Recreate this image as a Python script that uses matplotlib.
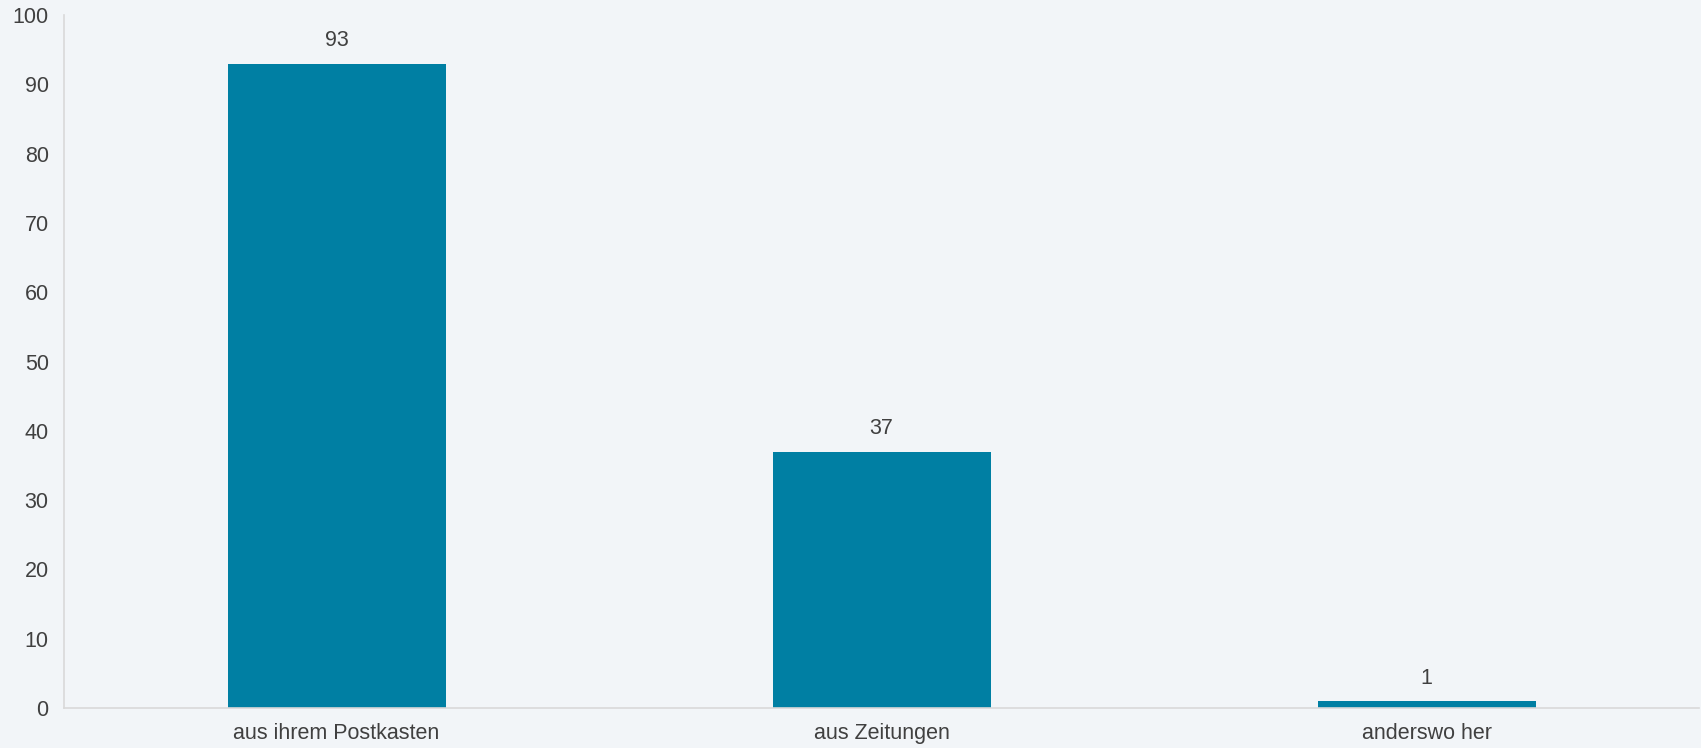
import matplotlib.pyplot as plt

categories = ['aus ihrem Postkasten', 'aus Zeitungen', 'anderswo her']
counts = [93, 37, 1]

bg = '#f2f5f8'
bar_color = '#007fa3'
text_color = '#404040'

plt.rcParams['font.family'] = ['Liberation Sans', 'DejaVu Sans']

fig = plt.figure(figsize=(17.01, 7.48), dpi=100, facecolor=bg)
ax = fig.add_axes([64 / 1701, 40 / 748, 1635 / 1701, 693 / 748])
ax.set_facecolor(bg)

x = range(len(categories))
bars = ax.bar(x, counts, width=0.4, color=bar_color, zorder=2)

for rect, val in zip(bars, counts):
    ax.annotate(str(val), (rect.get_x() + rect.get_width() / 2, val),
                xytext=(0, 9), textcoords='offset points',
                ha='center', va='bottom', fontsize=15.5, color=text_color)

ax.set_xlim(-0.5, len(categories) - 0.5)
ax.set_ylim(0, 100)
ax.set_yticks(range(0, 101, 10))
ax.set_xticks(list(x))
ax.set_xticklabels(categories)

for side in ['top', 'right']:
    ax.spines[side].set_visible(False)
ax.spines['left'].set_color('#d9d9d9')
ax.spines['bottom'].set_color('#d9d9d9')
ax.spines['left'].set_linewidth(1.2)
ax.spines['bottom'].set_linewidth(1.2)
ax.tick_params(axis='both', length=0, labelsize=15.5, labelcolor=text_color)
ax.tick_params(axis='y', pad=11)
ax.tick_params(axis='x', pad=11)

fig.savefig('out.png', dpi=100, facecolor=bg)
